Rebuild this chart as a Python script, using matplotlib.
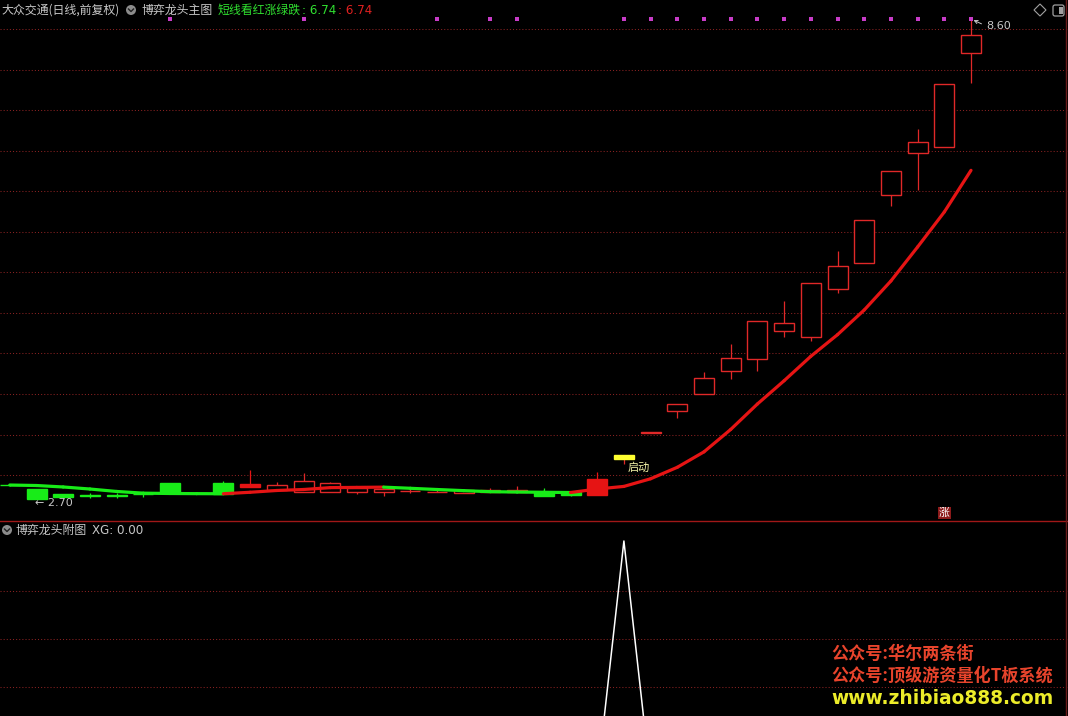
import matplotlib
matplotlib.use('Agg')
import matplotlib.pyplot as plt
from matplotlib.patches import Circle, Rectangle, Polygon, FancyBboxPatch
from matplotlib.collections import LineCollection
from matplotlib.transforms import IdentityTransform, blended_transform_factory

plt.rcParams['font.family'] = ['Noto Sans CJK SC', 'DejaVu Sans']
plt.rcParams['lines.scale_dashes'] = False

# ---------------- data ----------------
opens  = [2.872, 2.823, 2.762, 2.754, 2.754, 2.766, 2.901, 2.778, 2.901, 2.881,
          2.811, 2.790, 2.790, 2.790, 2.790, 2.800, 2.786, 2.771, 2.786, 2.786,
          2.790, 2.783, 2.946, 3.192, 3.517, 3.782, 3.991, 4.277, 4.417, 4.769,
          4.688, 5.278, 5.597, 6.433, 6.957, 7.023, 8.178]
highs  = [2.880, 2.823, 2.762, 2.774, 2.774, 2.774, 2.901, 2.786, 2.925, 3.057,
          2.905, 3.016, 2.913, 2.832, 2.820, 2.832, 2.811, 2.811, 2.832, 2.860,
          2.832, 2.783, 3.028, 3.241, 3.521, 3.868, 4.258, 4.605, 4.888, 5.134,
          5.352, 5.749, 6.130, 6.732, 7.248, 7.797, 8.600]
lows   = [2.864, 2.700, 2.721, 2.714, 2.716, 2.725, 2.775, 2.762, 2.758, 2.852,
          2.811, 2.790, 2.790, 2.756, 2.741, 2.778, 2.783, 2.771, 2.786, 2.786,
          2.741, 2.741, 2.753, 3.130, 3.517, 3.700, 3.991, 4.175, 4.277, 4.695,
          4.646, 5.236, 5.597, 6.305, 6.498, 7.023, 7.810]
closes = [2.868, 2.700, 2.721, 2.738, 2.734, 2.762, 2.787, 2.774, 2.758, 2.852,
          2.872, 2.922, 2.893, 2.832, 2.820, 2.801, 2.787, 2.811, 2.805, 2.811,
          2.741, 2.750, 2.753, 3.241, 3.521, 3.868, 4.188, 4.430, 4.888, 4.860,
          5.352, 5.564, 6.130, 6.732, 7.085, 7.797, 8.403]
# 短线看红涨绿跌 trend line
trend  = [2.872, 2.866, 2.848, 2.823, 2.793, 2.772, 2.768, 2.766, 2.765, 2.783,
          2.805, 2.817, 2.840, 2.843, 2.846, 2.832, 2.817, 2.803, 2.790, 2.786,
          2.783, 2.780, 2.823, 2.855, 2.949, 3.090, 3.280, 3.555, 3.868, 4.154,
          4.454, 4.720, 5.023, 5.380, 5.798, 6.228, 6.740]
xg = [0] * 23 + [1] + [0] * 13
dot_bars = [6, 11, 16, 18, 19] + list(range(23, 37))
signal_bar = 23
signal_text = '启动'
tag_bar = 35
tag_text = '涨'

stock_title = '大众交通(日线,前复权)'
main_name = '博弈龙头主图'
line_name = '短线看红涨绿跌'
sub_name = '博弈龙头附图'
watermarks = ['公众号:华尔两条街', '公众号:顶级游资量化T板系统', 'www.zhibiao888.com']

# ---------------- layout ----------------
W, H = 1068, 716
SEP = 521
X0, DX = 9.8, 26.7
PXU = 81.36  # pixels per price unit

RED = '#e61414'
GREEN = '#18ec18'
HOLLOW = '#e02828'
GRID = '#8a2222'
TXT = '#c8c8c8'

fig = plt.figure(figsize=(W / 100, H / 100), dpi=100, facecolor='black')
ax = fig.add_axes([0, (H - SEP) / H, 1, SEP / H])
ax2 = fig.add_axes([0, 0, 1, (H - SEP) / H])
for a in (ax, ax2):
    a.set_facecolor('black')
    a.axis('off')
    a.set_xlim(-X0 / DX, (W - X0) / DX)

top_price = max(highs)
ax.set_ylim(top_price - (SEP - 19) / PXU, top_price + 19 / PXU)
ax2.set_ylim(1 - 175 / 239, 1 + 20 / 239)

# grid lines
for k in range(12):
    yp = 29 + 40.55 * k
    f = (SEP - yp) / SEP
    ax.plot([0, 1], [f, f], transform=ax.transAxes, color=GRID, lw=0.75,
            linestyle=(0, (0.75, 1.5)), zorder=0)
for yp in (591, 639, 687):
    f = (H - yp) / (H - SEP)
    ax2.plot([0, 1], [f, f], transform=ax2.transAxes, color=GRID, lw=0.75,
             linestyle=(0, (0.75, 1.5)), zorder=0)

# candles
n = len(opens)
bw = 20 / DX
for i in range(n):
    o, h, l, c = opens[i], highs[i], lows[i], closes[i]
    rising_line = i > 0 and trend[i] > trend[i - 1]
    if i == signal_bar:
        col, face = HOLLOW, '#ffff30'
        edge = '#ffff30'
    elif c < o:
        col = RED if rising_line else GREEN
        face, edge = col, col
    else:
        col, face, edge = HOLLOW, 'black', HOLLOW
    lo_b, hi_b = min(o, c), max(o, c)
    ax.vlines(i, l, lo_b, color=col, lw=0.9, zorder=2)
    ax.vlines(i, hi_b, h, color=col, lw=0.9, zorder=2)
    ax.add_patch(Rectangle((i - bw / 2, lo_b), bw, max(hi_b - lo_b, 0.004),
                           facecolor=face, edgecolor=edge, lw=1.0, zorder=3))

# trend line coloured red when rising, green when falling
segs, cols = [], []
for i in range(1, n):
    segs.append([(i - 1, trend[i - 1]), (i, trend[i])])
    cols.append(RED if trend[i] > trend[i - 1] else GREEN)
ax.add_collection(LineCollection(segs, colors=cols, linewidths=2.3,
                                 capstyle='round', zorder=4))

# magenta signal dots at the top
bt = blended_transform_factory(ax.transData, ax.transAxes)
fy = (SEP - 19) / SEP
ax.scatter(dot_bars, [fy] * len(dot_bars), transform=bt, marker='s', s=5,
           color='#c83cc8', linewidths=0, zorder=5)

# low / high labels
imin = lows.index(min(lows))
ax.annotate('← %.2f' % min(lows), xy=(imin, min(lows)), xytext=(-2, -4),
            textcoords='offset pixels', ha='left', va='center', color=TXT,
            fontsize=8, family='DejaVu Sans', zorder=6)
imax = highs.index(max(highs))
ax.annotate('', xy=(imax, max(highs)), xytext=(13, -6), textcoords='offset pixels',
            arrowprops=dict(arrowstyle='->', color=TXT, lw=0.7, mutation_scale=6),
            zorder=6)
ax.annotate('%.2f' % max(highs), xy=(imax, max(highs)), xytext=(15, -7),
            textcoords='offset pixels', ha='left', va='center', color=TXT,
            fontsize=8, family='DejaVu Sans', zorder=6)

# launch text
ax.annotate(signal_text, xy=(signal_bar, lows[signal_bar]), xytext=(15, -4),
            textcoords='offset pixels', ha='center', va='center',
            color='#f4f4a8', fontsize=8, zorder=6)

# 涨 tag
ax.text(tag_bar, (SEP - 513) / SEP, tag_text, transform=bt, ha='center', va='center',
        color='white', fontsize=7.8,
        bbox=dict(boxstyle='square,pad=0.12', facecolor='#8c1a1a', edgecolor='none'),
        zorder=6)

# lower panel XG line
ax2.plot(range(n), xg, color='white', lw=1.1, zorder=3)

# panel separator and right border
fig.add_artist(plt.Line2D([0, W], [H - SEP, H - SEP], transform=IdentityTransform(),
                          color='#a01818', lw=1.0))
fig.add_artist(plt.Line2D([W - 2, W - 2], [0, H], transform=IdentityTransform(),
                          color='#6a1a1a', lw=1.0))


def ftext(x, y, s, **kw):
    fig.text(x / W, 1 - y / H, s, va='center', ha='left', **kw)


def circle_icon(x, y):
    fig.add_artist(Circle((x, H - y), 5, transform=IdentityTransform(),
                          facecolor='#8c8c8c', edgecolor='none'))
    fig.add_artist(plt.Line2D([x - 2.5, x, x + 2.5], [H - y + 1, H - y - 1.5, H - y + 1],
                              transform=IdentityTransform(), color='#202020', lw=1.0))


# header texts
ftext(1, 10, stock_title, color=TXT, fontsize=8.6)
circle_icon(131, 10)
ftext(141, 10, main_name, color=TXT, fontsize=8.6)
ftext(218, 10, line_name, color='#30e030', fontsize=8.6)
ftext(302, 10, ': %.2f' % trend[-1], color='#30e030', fontsize=8.6, family='DejaVu Sans')
ftext(338, 10, ': %.2f' % trend[-1], color='#e02020', fontsize=8.6, family='DejaVu Sans')

circle_icon(7, 530)
ftext(15, 530, sub_name, color=TXT, fontsize=8.6)
ftext(92, 530, 'XG: %.2f' % xg[-1], color=TXT, fontsize=8.6, family='DejaVu Sans')

# top right icons
fig.add_artist(Polygon([(1040, H - 4), (1046, H - 10), (1040, H - 16), (1034, H - 10)],
                       closed=True, transform=IdentityTransform(), facecolor='none',
                       edgecolor='#a0a0a0', lw=0.8))
fig.add_artist(FancyBboxPatch((1053, H - 16), 11, 11, boxstyle='round,pad=0,rounding_size=2',
                              transform=IdentityTransform(), facecolor='none',
                              edgecolor='#a0a0a0', lw=0.9))
fig.add_artist(Rectangle((1059, H - 14), 3.5, 7, transform=IdentityTransform(),
                         facecolor='#a0a0a0', edgecolor='none'))

# watermark
ftext(831, 654, watermarks[0], color='#e8442c', fontsize=12.3, fontweight='heavy')
ftext(831, 676, watermarks[1], color='#e8442c', fontsize=12.3, fontweight='heavy')
ftext(831, 698, watermarks[2], color='#ecec2a', fontsize=13.4, fontweight='heavy',
      family='DejaVu Sans')

fig.savefig('out.png', dpi=100, facecolor='black')
